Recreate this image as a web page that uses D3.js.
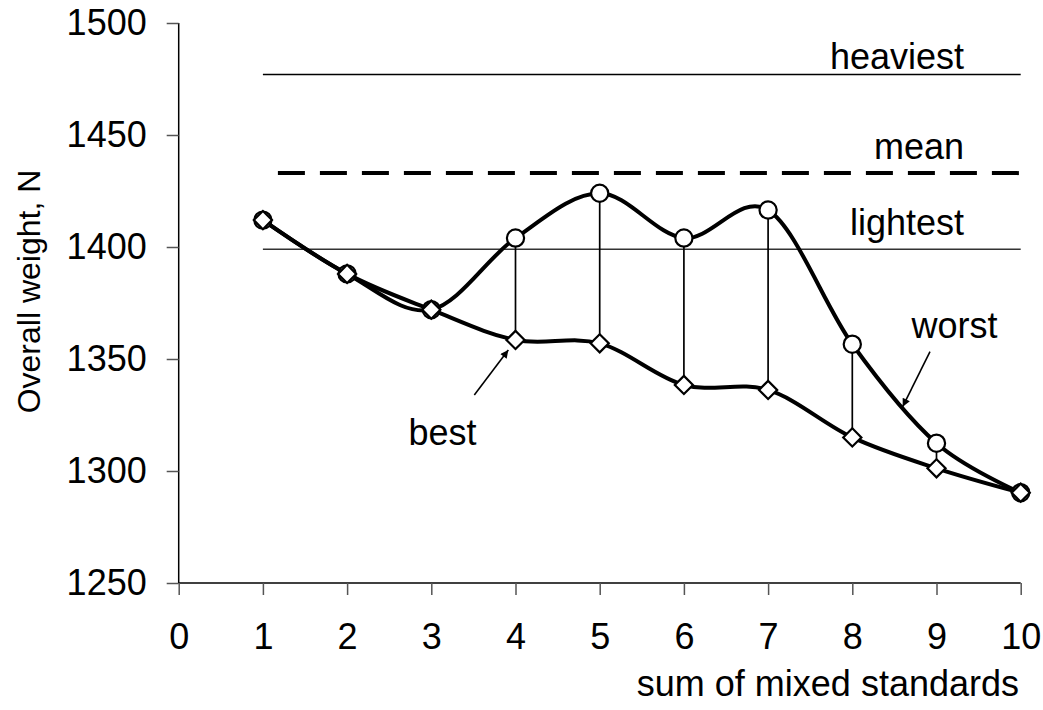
<!DOCTYPE html>
<html>
<head>
<meta charset="utf-8">
<script src="https://cdn.jsdelivr.net/npm/d3@7"></script>
<style>
  html, body { margin: 0; padding: 0; background: #fff; }
  svg { display: block; font-family: "Liberation Sans", Arial, sans-serif; }
</style>
</head>
<body>
<div id="chart"></div>
<script>
// x positions (sum of mixed standards)
const standards = [1, 2, 3, 4, 5, 6, 7, 8, 9, 10];
// overall weight, N
const bestWeights = [1412, 1388, 1372, 1358.5, 1357, 1338.4, 1336.2, 1315, 1301.2, 1290.3];
const worstWeights = [1412, 1388, 1372, 1404, 1424, 1404, 1416.5, 1356.6, 1312.4, 1290.3];
// reference levels
const refNames = ['heaviest', 'mean', 'lightest'];
const refValues = [1477, 1433, 1399];
// axis ticks
const xTicks = [0, 1, 2, 3, 4, 5, 6, 7, 8, 9, 10];
const yTicks = [1250, 1300, 1350, 1400, 1450, 1500];

const width = 1043, height = 710;
const margin = { top: 23, right: 22.3, bottom: 127, left: 178.7 };
const innerW = width - margin.left - margin.right;
const innerH = height - margin.top - margin.bottom;

const svg = d3.select('#chart').append('svg')
  .attr('width', width)
  .attr('height', height);

const g = svg.append('g')
  .attr('transform', 'translate(' + margin.left + ',' + margin.top + ')');

const xScale = d3.scaleLinear().domain([0, 10]).range([0, innerW]);
const yScale = d3.scaleLinear().domain([1250, 1500]).range([innerH, 0]);

const fontSize = 36;

// axes
const yAxis = g.append('g')
  .call(d3.axisLeft(yScale).tickValues(yTicks).tickSize(12).tickPadding(20).tickFormat(d3.format('d')));
const xAxis = g.append('g')
  .attr('transform', 'translate(0,' + innerH + ')')
  .call(d3.axisBottom(xScale).tickValues(xTicks).tickSize(12).tickPadding(28).tickFormat(d3.format('d')));

[xAxis, yAxis].forEach(ax => {
  ax.select('.domain').attr('stroke', '#000').attr('stroke-width', 1.5);
  ax.selectAll('.tick line').attr('stroke', '#555').attr('stroke-width', 1.5);
  ax.selectAll('.tick text')
    .attr('fill', '#000')
    .style('font-size', fontSize + 'px')
    .style('font-family', '"Liberation Sans", Arial, sans-serif');
});
xAxis.select('.domain').attr('d', 'M0,0H' + innerW);
yAxis.select('.domain').attr('d', 'M0,' + innerH + 'V0');

// reference lines
const refStyle = [
  { w: 1.6, dash: null },
  { w: 4, dash: '27,15', offset: 27 },
  { w: 1.6, dash: null, color: '#333' }
];
refValues.forEach((v, i) => {
  const ln = g.append('line')
    .attr('x1', xScale(1)).attr('x2', xScale(10))
    .attr('y1', yScale(v)).attr('y2', yScale(v))
    .attr('stroke', refStyle[i].color || '#000')
    .attr('stroke-width', refStyle[i].w);
  if (refStyle[i].dash) {
    ln.attr('stroke-dasharray', refStyle[i].dash).attr('stroke-dashoffset', refStyle[i].offset);
  }
});

// reference labels
const refLabelY = [69.3, 159.3, 235];
refNames.forEach((name, i) => {
  svg.append('text')
    .attr('x', 964).attr('y', refLabelY[i])
    .attr('text-anchor', 'end')
    .style('font-size', fontSize + 'px')
    .text(name);
});

// high-low lines
const pairs = standards.map((s, i) => ({ s: s, best: bestWeights[i], worst: worstWeights[i] }));
g.selectAll('.hilo')
  .data(pairs)
  .enter().append('line')
  .attr('class', 'hilo')
  .attr('x1', d => xScale(d.s)).attr('x2', d => xScale(d.s))
  .attr('y1', d => yScale(d.worst)).attr('y2', d => yScale(d.best))
  .attr('stroke', '#000')
  .attr('stroke-width', 1.7);

// smoothed series lines
const line = d3.line()
  .x((d, i) => xScale(standards[i]))
  .y(d => yScale(d))
  .curve(d3.curveCardinal.tension(0));

[worstWeights, bestWeights].forEach(series => {
  g.append('path')
    .datum(series)
    .attr('d', line)
    .attr('fill', 'none')
    .attr('stroke', '#000')
    .attr('stroke-width', 4);
});

// markers
g.selectAll('.worst')
  .data(worstWeights)
  .enter().append('circle')
  .attr('class', 'worst')
  .attr('cx', (d, i) => xScale(standards[i]))
  .attr('cy', d => yScale(d))
  .attr('r', 8.6)
  .attr('fill', '#fff')
  .attr('stroke', '#000')
  .attr('stroke-width', 2.2);

const diamond = d3.symbol().type(d3.symbolSquare).size(165);
g.selectAll('.best')
  .data(bestWeights)
  .enter().append('path')
  .attr('class', 'best')
  .attr('d', diamond)
  .attr('transform', (d, i) => 'translate(' + xScale(standards[i]) + ',' + yScale(d) + ') rotate(45)')
  .attr('fill', '#fff')
  .attr('stroke', '#000')
  .attr('stroke-width', 2.2);

// annotations with arrows
svg.append('defs').append('marker')
  .attr('id', 'arrow')
  .attr('viewBox', '0 0 10 10')
  .attr('refX', 10).attr('refY', 5)
  .attr('markerWidth', 11).attr('markerHeight', 8)
  .attr('markerUnits', 'userSpaceOnUse')
  .attr('orient', 'auto')
  .append('path')
  .attr('d', 'M0,0L10,5L0,10z')
  .attr('fill', '#000');

svg.append('line')
  .attr('x1', 474.3).attr('y1', 395)
  .attr('x2', 508.3).attr('y2', 350)
  .attr('stroke', '#000').attr('stroke-width', 1.6)
  .attr('marker-end', 'url(#arrow)');
svg.append('text')
  .attr('x', 442.5).attr('y', 445)
  .attr('text-anchor', 'middle')
  .style('font-size', fontSize + 'px')
  .text('best');

svg.append('line')
  .attr('x1', 930).attr('y1', 351.7)
  .attr('x2', 902.7).attr('y2', 406.7)
  .attr('stroke', '#000').attr('stroke-width', 1.6)
  .attr('marker-end', 'url(#arrow)');
svg.append('text')
  .attr('x', 954.5).attr('y', 338.3)
  .attr('text-anchor', 'middle')
  .style('font-size', fontSize + 'px')
  .text('worst');

// axis titles
svg.append('text')
  .attr('x', 1019).attr('y', 696)
  .attr('text-anchor', 'end')
  .style('font-size', fontSize + 'px')
  .text('sum of mixed standards');

svg.append('text')
  .attr('transform', 'translate(40,291.5) rotate(-90)')
  .attr('text-anchor', 'middle')
  .style('font-size', '32px')
  .text('Overall weight, N');
</script>
</body>
</html>
